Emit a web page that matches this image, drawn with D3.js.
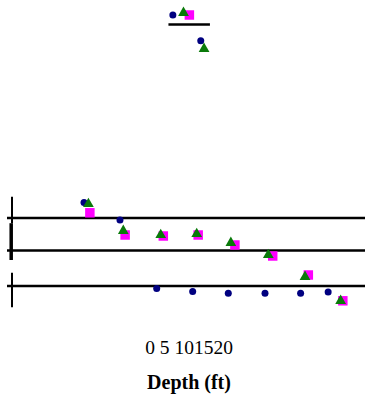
<!DOCTYPE html>
<html>
<head>
<meta charset="utf-8">
<script src="https://cdn.jsdelivr.net/npm/d3@7"></script>
<style>
    html, body { margin: 0; padding: 0; background: #fff; }
    svg { display: block; }
</style>
</head>
<body>
<svg id="chart"></svg>
<script>
// series values: [position, level]
var navyPts = [[0, 50.6], [0.98, 55.0], [2.42, 3.75], [3.18, 10.2], [1.98, 72.1],
    [2.96, 72.9], [3.93, 73.3], [4.93, 73.3], [5.9, 73.3], [6.65, 73.0]];
var greenPts = [[0.12, 51.0], [2.71, 3.2], [3.27, 12.2], [1.07, 57.7], [2.09, 58.75],
    [3.07, 58.5], [4.0, 60.7], [5.02, 63.75], [6.02, 69.2], [6.99, 75.2]];
var magentaPts = [[0.16, 53.2], [2.87, 3.75], [1.12, 58.75], [2.16, 59.0], [3.11, 58.75],
    [4.11, 61.25], [5.14, 64.0], [6.11, 68.75], [7.05, 75.2]];
var refLevels = [54.5, 62.6, 71.5];
var topLevel = 6.1;
var topSpan = [2.3, 3.43];
var tickLabels = [0, 5, 10, 15, 20];
var axisTitle = "Depth (ft)";

var cfg = {
    width: 365,
    height: 400,
    left: 7,
    axisX: 12
};

var svg = d3.select("#chart").attr("width", cfg.width).attr("height", cfg.height);

var x = d3.scaleLinear().domain([0, 7]).range([84, 341]);
var y = d3.scaleLinear().domain([0, 100]).range([0, 400]);

// horizontal rules
svg.selectAll("line.ref")
    .data(refLevels)
    .enter()
    .append("line")
    .attr("class", "ref")
    .attr("x1", cfg.left)
    .attr("x2", cfg.width)
    .attr("y1", function (d) { return y(d); })
    .attr("y2", function (d) { return y(d); })
    .attr("stroke", "#000")
    .attr("stroke-width", 2.5);

svg.append("line")
    .attr("x1", x(topSpan[0])).attr("x2", x(topSpan[1]))
    .attr("y1", y(topLevel)).attr("y2", y(topLevel))
    .attr("stroke", "#000").attr("stroke-width", 2.5);

// vertical axis pieces
var vSegs = [[49.2, 55.8, 2], [55.8, 65, 3.5], [68.2, 76.8, 2]];
svg.selectAll("line.vax")
    .data(vSegs)
    .enter()
    .append("line")
    .attr("class", "vax")
    .attr("x1", function (d) { return d[2] > 3 ? cfg.axisX - 0.8 : cfg.axisX; })
    .attr("x2", function (d) { return d[2] > 3 ? cfg.axisX - 0.8 : cfg.axisX; })
    .attr("y1", function (d) { return y(d[0]); })
    .attr("y2", function (d) { return y(d[1]); })
    .attr("stroke", "#000")
    .attr("stroke-width", function (d) { return d[2]; });

// navy circles
svg.append("g").selectAll("circle")
    .data(navyPts)
    .enter()
    .append("circle")
    .attr("cx", function (d) { return x(d[0]); })
    .attr("cy", function (d) { return y(d[1]); })
    .attr("r", 3.5)
    .attr("fill", "#000080");

// magenta squares
svg.append("g").selectAll("path")
    .data(magentaPts)
    .enter()
    .append("path")
    .attr("transform", function (d) { return "translate(" + x(d[0]) + "," + y(d[1]) + ")"; })
    .attr("d", d3.symbol().type(d3.symbolSquare).size(90))
    .attr("fill", "#ff00ff");

// green triangles
svg.append("g").selectAll("path")
    .data(greenPts)
    .enter()
    .append("path")
    .attr("transform", function (d) { return "translate(" + x(d[0]) + "," + y(d[1]) + ")"; })
    .attr("d", d3.symbol().type(d3.symbolTriangle).size(50))
    .attr("fill", "#0a7a0a");

// tick labels and title
svg.append("text")
    .attr("x", 189)
    .attr("y", 354)
    .attr("text-anchor", "middle")
    .attr("font-family", "'Liberation Serif', 'Times New Roman', serif")
    .attr("font-size", 19.5)
    .text(tickLabels.map(function (t) { return String(t).length === 1 ? t + " " : String(t); }).join(""));

svg.append("text")
    .attr("x", 189)
    .attr("y", 389)
    .attr("text-anchor", "middle")
    .attr("font-family", "'Liberation Serif', 'Times New Roman', serif")
    .attr("font-weight", "bold")
    .attr("font-size", 20)
    .text(axisTitle);
</script>
</body>
</html>
